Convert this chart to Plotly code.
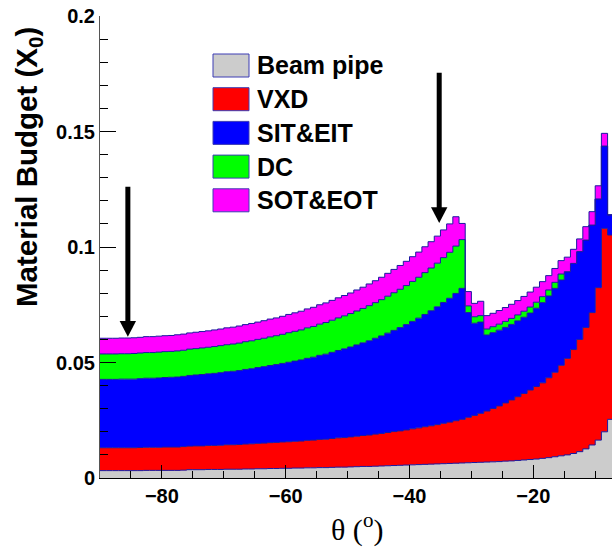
import plotly.graph_objects as go

# ---- data (per-layer material budget per 1-degree theta bin, left edges -90..-8) ----
bin_left_edges = list(range(-90, -7))
last_edge = -7

beam_pipe = [0.0032,0.0032,0.0032,0.0032,0.0032,0.0032,0.0032,0.0033,0.0033,0.0033,0.0033,0.0033,0.0033,0.0034,
             0.0036,0.0036,0.0036,0.0037,0.0037,0.0037,0.0038,0.0038,0.0038,0.0039,0.0039,0.0040,0.0040,0.0041,0.0041,0.0042,
             0.0042,0.0043,0.0043,0.0044,0.0044,0.0045,0.0045,0.0046,0.0047,0.0047,0.0048,0.0049,0.0050,0.0050,0.0051,
             0.0052,0.0053,0.0054,0.0055,0.0056,0.0057,0.0058,0.0059,0.0060,0.0061,0.0062,0.0063,0.0064,0.0065,
             0.0066,0.0067,0.0068,0.0069,0.0070,0.0071,0.0073,0.0074,0.0076,0.0078,0.0080,0.0082,
             0.0085,0.0088,0.0092,0.0096,0.0100,0.0106,0.0114,0.0126,0.0143,0.0164,0.0200,0.0254]

vxd = [0.0099,0.0099,0.0099,0.0099,0.0099,0.0099,0.0100,0.0100,0.0100,0.0100,
       0.0101,0.0101,0.0101,0.0102,0.0102,0.0103,0.0103,0.0104,0.0104,0.0105,
       0.0106,0.0106,0.0107,0.0108,0.0109,0.0110,0.0111,0.0112,0.0113,0.0114,
       0.0115,0.0116,0.0117,0.0119,0.0120,0.0122,0.0123,0.0125,0.0127,0.0128,
       0.0130,0.0132,0.0134,0.0136,0.0139,0.0141,0.0144,0.0147,0.0149,0.0152,
       0.0156,0.0159,0.0163,0.0166,0.0170,0.0175,0.0179,0.0184,0.0189,
       0.0197,0.0204,0.0212,0.0221,0.0231,0.0241,0.0252,0.0264,0.0276,0.0288,0.0301,0.0314,
       0.0327,0.0346,0.0366,0.0392,0.0418,0.0450,0.0486,0.0526,0.0573,0.0660,0.0881,0.0798]

sit_eit = [0.0296,0.0296,0.0296,0.0297,0.0297,0.0297,0.0298,0.0299,0.0299,0.0300,
           0.0301,0.0302,0.0303,0.0304,0.0306,0.0307,0.0309,0.0310,0.0312,0.0314,
           0.0316,0.0318,0.0320,0.0323,0.0325,0.0328,0.0331,0.0334,0.0337,0.0340,
           0.0344,0.0347,0.0351,0.0355,0.0359,0.0364,0.0368,0.0373,0.0378,0.0384,
           0.0389,0.0395,0.0401,0.0408,0.0415,0.0422,0.0430,0.0438,0.0447,0.0456,
           0.0465,0.0475,0.0486,0.0498,0.0510,0.0523,0.0536,0.0551,0.0567,
           0.0453,0.0399,0.0395,0.0329,0.0328,0.0328,0.0327,0.0327,0.0328,0.0330,0.0333,0.0339,
           0.0347,0.0354,0.0363,0.0369,0.0375,0.0373,0.0380,0.0378,0.0379,0.0384,0.0356,0.0087]

dc = [0.0110,0.0110,0.0110,0.0110,0.0110,0.0111,0.0111,0.0111,0.0111,0.0112,
      0.0112,0.0112,0.0113,0.0113,0.0114,0.0114,0.0115,0.0115,0.0116,0.0117,
      0.0117,0.0118,0.0119,0.0120,0.0121,0.0122,0.0123,0.0124,0.0125,0.0126,
      0.0128,0.0129,0.0130,0.0132,0.0133,0.0135,0.0137,0.0139,0.0141,0.0143,
      0.0145,0.0147,0.0149,0.0152,0.0154,0.0157,0.0160,0.0163,0.0166,0.0169,
      0.0173,0.0177,0.0181,0.0185,0.0189,0.0194,0.0199,0.0205,0.0211,
      0.0029,0.0028,0.0028,0.0026,0.0026,0.0026,0.0026,0.0026,0.0026,0.0026,0.0026,0.0026,
      0.0026,0.0026,0.0026,0.0026,0.0,0.0,0.0,0.0,0.0,0.0,0.0,0.0]

sot_eot = [0.0068,0.0068,0.0068,0.0068,0.0068,0.0068,0.0068,0.0069,0.0069,0.0069,
           0.0069,0.0069,0.0070,0.0070,0.0070,0.0071,0.0071,0.0071,0.0072,0.0072,
           0.0073,0.0073,0.0074,0.0074,0.0075,0.0075,0.0076,0.0077,0.0077,0.0078,
           0.0079,0.0080,0.0081,0.0082,0.0083,0.0084,0.0085,0.0086,0.0087,0.0088,
           0.0089,0.0091,0.0092,0.0094,0.0095,0.0097,0.0099,0.0101,0.0103,0.0105,
           0.0107,0.0109,0.0112,0.0114,0.0117,0.0120,0.0123,0.0127,0.0070,
           0.0062,0.0058,0.0062,0.0058,0.0058,0.0059,0.0060,0.0061,0.0062,0.0064,0.0065,0.0065,
           0.0065,0.0062,0.0060,0.0058,0.0063,0.0061,0.0055,0.0058,0.0058,0.0057,0.0055,0.0000]

layer_names = ["Beam pipe", "VXD", "SIT&EIT", "DC", "SOT&EOT"]
layer_values = [beam_pipe, vxd, sit_eit, dc, sot_eot]
layer_colors = ["#cccccc", "#ff0000", "#0000ff", "#00ff00", "#ff00ff"]
outline_color = "#1a1aa0"

# arrows: (theta, top value, tip value)
arrows = [(-85.5, 0.1261, 0.0612), (-35.2, 0.1754, 0.1104)]

x_ticks = [-80, -60, -40, -20]
y_ticks = [0, 0.05, 0.1, 0.15, 0.2]

# ---- figure ----
W, H = 612, 549
ML, MR, MT, MB = 100, 0, 16, 71
PW, PH = W - ML - MR, H - MT - MB
px_per_deg = 6.19
x_max = -90 + PW / px_per_deg

fig = go.Figure()
x_steps = bin_left_edges + [last_edge]
for name, vals, col in zip(layer_names, layer_values, layer_colors):
    fig.add_trace(go.Scatter(
        x=x_steps, y=vals + [vals[-1]], name=name, mode="lines",
        stackgroup="one", line=dict(shape="hv", color=outline_color, width=1),
        fillcolor=col, showlegend=False, hoverinfo="skip"))

def px2paper(xp, yp):
    return (xp - ML) / PW, (H - MB - yp) / PH

shapes = []
y_per_px = 0.2 / PH
for (ax_, ytop, ytip) in arrows:
    head_h = 15.7 * y_per_px
    half_w = 8.2 / px_per_deg
    shapes.append(dict(type="line", xref="x", yref="y", x0=ax_, x1=ax_, y0=ytop, y1=ytip + head_h * 0.9,
                       line=dict(color="black", width=5)))
    shapes.append(dict(type="path", xref="x", yref="y",
                       path=f"M {ax_-half_w},{ytip+head_h} L {ax_+half_w},{ytip+head_h} L {ax_},{ytip} Z",
                       fillcolor="black", line=dict(color="black", width=0)))

annotations = []
legend_rows = [65.5, 99.2, 132.9, 166.6, 200.3]
for name, col, yc in zip(layer_names, layer_colors, legend_rows):
    x0, y0 = px2paper(213, yc + 11.5)
    x1, y1 = px2paper(249, yc - 11.5)
    shapes.append(dict(type="rect", xref="paper", yref="paper", x0=x0, x1=x1, y0=y0, y1=y1,
                       fillcolor=col, line=dict(color="#3c3cb4", width=1)))
    tx, ty = px2paper(255, yc)
    annotations.append(dict(xref="paper", yref="paper", x=tx, y=ty, xanchor="left", yanchor="middle",
                            text=name, showarrow=False,
                            font=dict(family="Liberation Sans", size=25, color="black", weight="bold")))

tx, ty = px2paper(28, 167)
annotations.append(dict(xref="paper", yref="paper", x=tx, y=ty, xanchor="center", yanchor="middle",
                        text="Material Budget (X<sub>0</sub>)", textangle=-90, showarrow=False,
                        font=dict(family="Liberation Sans", size=29.5, color="black", weight="bold")))
tx, ty = px2paper(357, 527)
annotations.append(dict(xref="paper", yref="paper", x=tx, y=ty, xanchor="center", yanchor="middle",
                        text="θ (<sup>o</sup>)", showarrow=False,
                        font=dict(family="Liberation Serif", size=30, color="black")))

tickfont = dict(family="Liberation Sans", size=20, color="black", weight="bold")
fig.update_layout(
    width=W, height=H, margin=dict(l=ML, r=MR, t=MT, b=MB, pad=0),
    paper_bgcolor="white", plot_bgcolor="white",
    shapes=shapes, annotations=annotations, showlegend=False,
    xaxis=dict(range=[-90, x_max], tickvals=x_ticks, ticks="inside", ticklen=13, tickwidth=1,
               tickcolor="black", showline=True, linecolor="black", linewidth=1, showgrid=False,
               zeroline=False, tickfont=tickfont, mirror=False,
               minor=dict(dtick=5, tick0=0, ticks="inside", ticklen=7, tickcolor="black", showgrid=False)),
    yaxis=dict(range=[0, 0.2], tickvals=y_ticks, ticktext=["0", "0.05", "0.1", "0.15", "0.2"],
               ticks="inside", ticklen=16, tickwidth=1,
               tickcolor="black", showline=True, linecolor="#555555", linewidth=1, showgrid=False,
               zeroline=False, tickfont=tickfont,
               minor=dict(dtick=0.01, tick0=0, ticks="inside", ticklen=8, tickcolor="black", showgrid=False)),
)
fig.write_html("out.html")
